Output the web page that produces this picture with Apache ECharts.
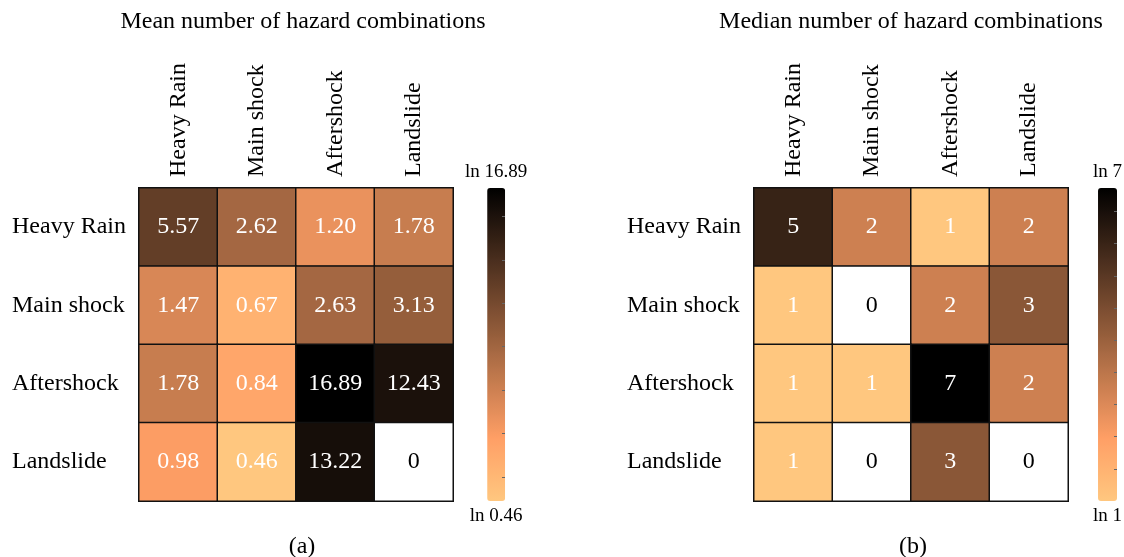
<!DOCTYPE html>
<html>
<head>
<meta charset="utf-8">
<script src="https://cdn.jsdelivr.net/npm/echarts@6/dist/echarts.min.js"></script>
<style>
  html, body { margin: 0; padding: 0; background: #fff; }
  #chart { width: 1124px; height: 557px; }
</style>
</head>
<body>
<div id="chart"></div>
<script>
// Hazard categories (columns left→right, rows top→bottom)
const hazards = ['Heavy Rain', 'Main shock', 'Aftershock', 'Landslide'];

// (a) mean number of hazard combinations, one array per row
const meanHeavyRain  = [5.57, 2.62, 1.20, 1.78];
const meanMainShock  = [1.47, 0.67, 2.63, 3.13];
const meanAftershock = [1.78, 0.84, 16.89, 12.43];
const meanLandslide  = [0.98, 0.46, 13.22, 0];

// (b) median number of hazard combinations, one array per row
const medianHeavyRain  = [5, 2, 1, 2];
const medianMainShock  = [1, 0, 2, 3];
const medianAftershock = [1, 1, 7, 2];
const medianLandslide  = [1, 0, 3, 0];

// Colour-bar end labels
const meanBarLabels = ['ln 16.89', 'ln 0.46'];
const medianBarLabels = ['ln 7', 'ln 1'];

const FONT = 'Liberation Serif';

// Reversed "copper" colormap: light tan at the low end to black at the top
function copperStops(n) {
  const out = [];
  for (let i = 0; i <= n; i++) {
    const x = 1 - i / n;
    const r = Math.round(255 * Math.min(1, 1.25 * x));
    const g = Math.round(255 * 0.7812 * x);
    const b = Math.round(255 * 0.4975 * x);
    out.push('rgb(' + r + ',' + g + ',' + b + ')');
  }
  return out;
}
const copper = copperStops(40);

function buildCells(rows, fmt) {
  const cells = [];
  rows.forEach((row, r) => {
    row.forEach((v, c) => {
      const cell = {
        value: [c, r, v, v > 0 ? Math.log(v) : -99],
        label: { color: v > 0 ? '#ffffff' : '#000000', formatter: () => fmt(v) }
      };
      // empty combinations are left white
      if (v === 0) cell.visualMap = false;
      if (v === 0) cell.itemStyle = { color: '#ffffff' };
      cells.push(cell);
    });
  });
  return cells;
}

const meanRows = [meanHeavyRain, meanMainShock, meanAftershock, meanLandslide];
const medianRows = [medianHeavyRain, medianMainShock, medianAftershock, medianLandslide];

const meanPos = meanRows.flat().filter(v => v > 0);
const medianPos = medianRows.flat().filter(v => v > 0);
const meanLn = [Math.log(Math.min(...meanPos)), Math.log(Math.max(...meanPos))];
const medianLn = [Math.log(Math.min(...medianPos)), Math.log(Math.max(...medianPos))];

const meanCells = buildCells(meanRows, v => v === 0 ? '0' : v.toFixed(2));
const medianCells = buildCells(medianRows, v => String(v));

const GRID_TOP = 188, GRID_H = 313, GRID_W = 314;
const panels = [
  { left: 139, bar: 487 },
  { left: 754, bar: 1098 }
];

function catX(i) {
  return {
    type: 'category', gridIndex: i, data: hazards, position: 'top',
    axisLine: { show: false }, axisTick: { show: false }, splitLine: { show: false },
    axisLabel: { rotate: -90, margin: 11, fontFamily: FONT, fontSize: 24, color: '#000' }
  };
}
function catY(i) {
  return {
    type: 'category', gridIndex: i, data: hazards, inverse: true,
    axisLine: { show: false }, axisTick: { show: false }, splitLine: { show: false },
    axisLabel: { align: 'left', margin: 127, fontFamily: FONT, fontSize: 24, color: '#000' }
  };
}
function tickX(i) {
  return { type: 'value', gridIndex: i, show: false };
}
function tickY(i, range, ticks) {
  return {
    type: 'value', gridIndex: i, min: range[0], max: range[1], position: 'right', z: 10,
    axisLine: { show: false, onZero: false }, splitLine: { show: false }, axisLabel: { show: false },
    axisTick: { show: true, inside: true, length: 3, customValues: ticks,
                lineStyle: { color: '#666', width: 1 } }
  };
}

const heatLabel = { show: true, fontFamily: FONT, fontSize: 24 };
const cellStyle = { borderColor: '#111', borderWidth: 1.5 };

const option = {
  animation: false,
  backgroundColor: '#ffffff',
  title: [
    { text: 'Mean number of hazard combinations', left: 298, top: 5, textAlign: 'center',
      textStyle: { fontFamily: FONT, fontSize: 24, fontWeight: 'normal', color: '#000' } },
    { text: 'Median number of hazard combinations', left: 906, top: 5, textAlign: 'center',
      textStyle: { fontFamily: FONT, fontSize: 24, fontWeight: 'normal', color: '#000' } },
    { text: '(a)', left: 297, top: 530, textAlign: 'center',
      textStyle: { fontFamily: FONT, fontSize: 24, fontWeight: 'normal', color: '#000' } },
    { text: '(b)', left: 908, top: 530, textAlign: 'center',
      textStyle: { fontFamily: FONT, fontSize: 24, fontWeight: 'normal', color: '#000' } }
  ],
  grid: [
    { left: panels[0].left, top: GRID_TOP, width: GRID_W, height: GRID_H },
    { left: panels[1].left, top: GRID_TOP, width: GRID_W, height: GRID_H },
    { left: panels[0].bar, top: GRID_TOP, width: 18, height: GRID_H },
    { left: panels[1].bar, top: GRID_TOP, width: 19, height: GRID_H }
  ],
  xAxis: [catX(0), catX(1), tickX(2), tickX(3)],
  yAxis: [
    catY(0), catY(1),
    tickY(2, meanLn, [-0.5, 0, 0.5, 1, 1.5, 2, 2.5]),
    tickY(3, medianLn, [0.2, 0.4, 0.6, 0.8, 1.0, 1.2, 1.4, 1.6, 1.8])
  ],
  visualMap: [
    { type: 'continuous', seriesIndex: 0, dimension: 3, min: meanLn[0], max: meanLn[1],
      unboundedRange: false,
      calculable: false, orient: 'vertical', left: panels[0].bar - 37, top: 148,
      itemWidth: 18, itemHeight: GRID_H, textGap: 6, text: meanBarLabels,
      textStyle: { fontFamily: FONT, fontSize: 19, color: '#000' },
      inRange: { color: copper }, outOfRange: { color: '#ffffff' } },
    { type: 'continuous', seriesIndex: 1, dimension: 3, min: medianLn[0], max: medianLn[1],
      unboundedRange: false,
      calculable: false, orient: 'vertical', left: panels[1].bar - 20, top: 148,
      itemWidth: 19, itemHeight: GRID_H, textGap: 6, text: medianBarLabels,
      textStyle: { fontFamily: FONT, fontSize: 19, color: '#000' },
      inRange: { color: copper }, outOfRange: { color: '#ffffff' } }
  ],
  series: [
    { type: 'heatmap', xAxisIndex: 0, yAxisIndex: 0, data: meanCells,
      label: heatLabel, itemStyle: cellStyle, emphasis: { disabled: true } },
    { type: 'heatmap', xAxisIndex: 1, yAxisIndex: 1, data: medianCells,
      label: heatLabel, itemStyle: cellStyle, emphasis: { disabled: true } }
  ]
};

const chart = echarts.init(document.getElementById('chart'), null, { renderer: 'canvas' });
chart.setOption(option);
</script>
</body>
</html>
